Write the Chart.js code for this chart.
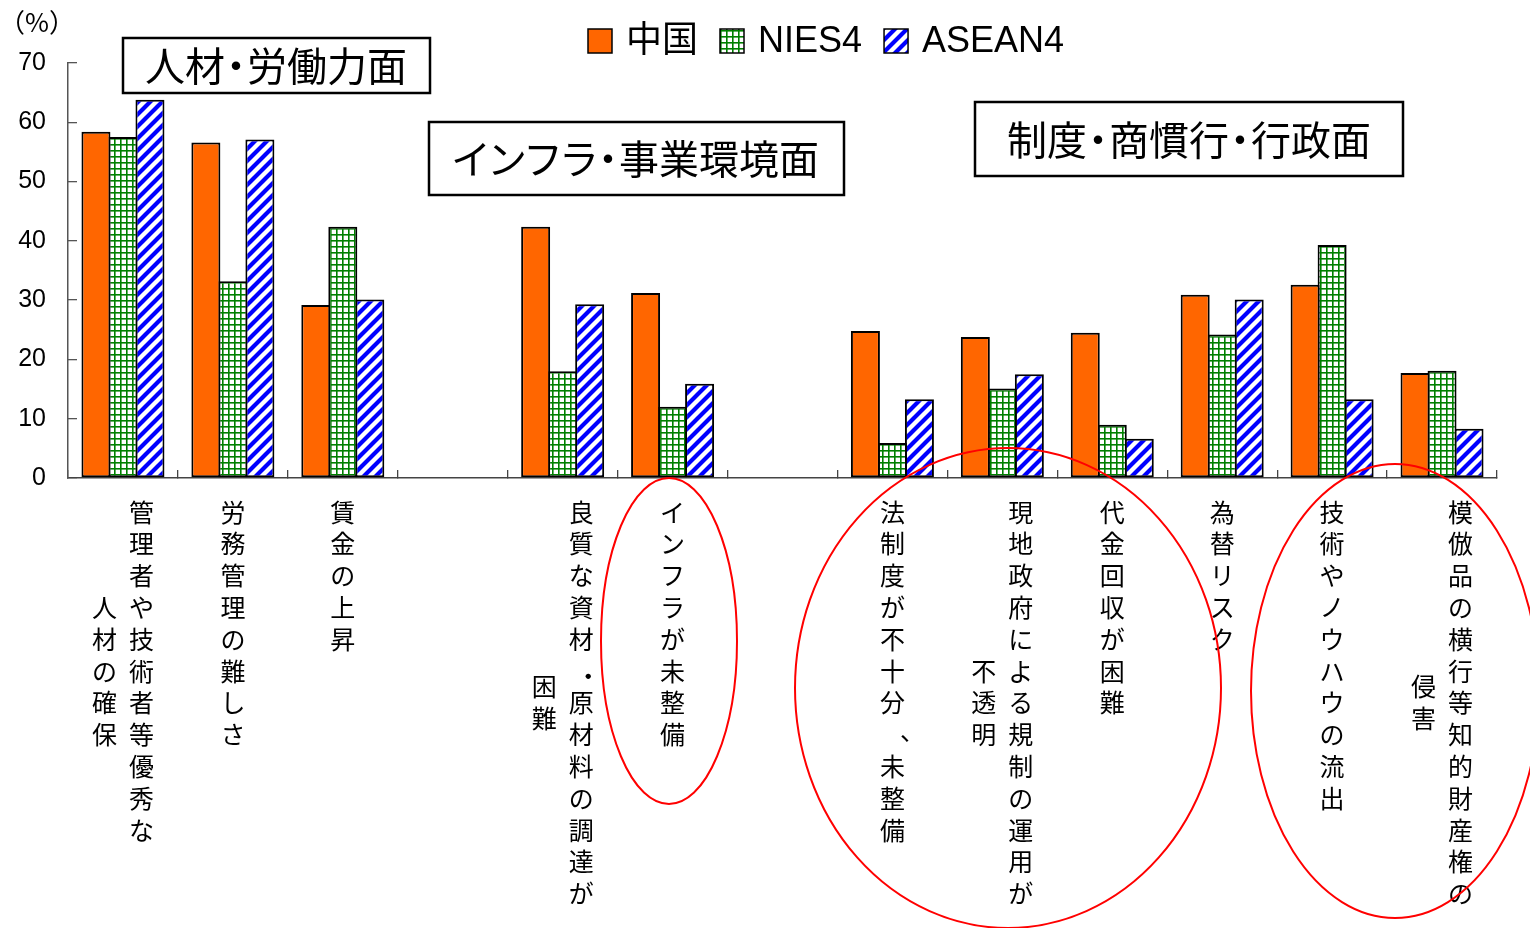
<!DOCTYPE html>
<html>
<head>
<meta charset="utf-8">
<script src="https://cdn.jsdelivr.net/npm/chart.js@4/dist/chart.umd.min.js"></script>
<style>
html,body{margin:0;padding:0;background:#fff;}
#wrap{width:1530px;height:928px;position:relative;}
canvas{display:block;}
</style>
</head>
<body>
<div id="wrap"><canvas id="c" width="1530" height="928"></canvas></div>
<script>
// ---- data ----
const categoryLabels = [
  ['管理者や技術者等優秀な', '人材の確保'],
  ['労務管理の難しさ'],
  ['賃金の上昇'],
  [''],
  ['良質な資材・原材料の調達が', '困難'],
  ['インフラが未整備'],
  [''],
  ['法制度が不十分、未整備'],
  ['現地政府による規制の運用が', '不透明'],
  ['代金回収が困難'],
  ['為替リスク'],
  ['技術やノウハウの流出'],
  ['模倣品の横行等知的財産権の', '侵害']
];
const seriesNames = ['中国', 'NIES4', 'ASEAN4'];
const chinaValues  = [58.4, 56.6, 29.2, null, 42.4, 31.2, null, 24.8, 23.8, 24.5, 30.9, 32.6, 17.7];
const nies4Values  = [57.5, 33.2, 42.4, null, 18.0, 12.0, null, 5.9, 15.1, 9.0, 24.2, 39.3, 18.1];
const asean4Values = [63.8, 57.1, 30.1, null, 29.3, 15.9, null, 13.3, 17.5, 6.6, 30.1, 13.3, 8.3];
const yTickValues = [0, 10, 20, 30, 40, 50, 60, 70];
const unitLabel = '（%）';
const groupTitles = ['人材・労働力面', 'インフラ・事業環境面', '制度・商慣行・行政面'];

// ---- patterns ----
function gridPattern() {
  const c = document.createElement('canvas');
  c.width = 6; c.height = 6;
  const g = c.getContext('2d');
  g.fillStyle = '#ffffff'; g.fillRect(0, 0, 6, 6);
  g.fillStyle = '#008000';
  g.fillRect(0, 0, 6, 1.6);
  g.fillRect(0, 0, 1.6, 6);
  return g.createPattern(c, 'repeat');
}
function stripePattern() {
  const s = 12;
  const c = document.createElement('canvas');
  c.width = s; c.height = s;
  const g = c.getContext('2d');
  g.fillStyle = '#ffffff'; g.fillRect(0, 0, s, s);
  g.strokeStyle = '#0000ff'; g.lineWidth = 4.2;
  g.beginPath();
  for (let k = -1; k <= 1; k++) {
    g.moveTo(k * s - 2, s + 2);
    g.lineTo(k * s + s + 2, -2);
  }
  g.stroke();
  return g.createPattern(c, 'repeat');
}
const fills = ['#ff6600', gridPattern(), stripePattern()];

const CJK = '"Noto Sans CJK JP", "Noto Sans CJK SC", sans-serif';
const MIX = '"Liberation Sans", "Noto Sans CJK JP", sans-serif';

function drawSpacedText(ctx, text, cx, cy) {
  const chars = [...text];
  const adv = chars.map(ch => {
    const w = ctx.measureText(ch).width;
    if (ch === '・') return w * 0.55;
    if (/[\u30A0-\u30FF]/.test(ch)) return w * 0.9;
    return w;
  });
  const total = adv.reduce((a, b) => a + b, 0);
  let x = cx - total / 2;
  ctx.textAlign = 'center';
  chars.forEach((ch, i) => {
    ctx.fillText(ch, x + adv[i] / 2, cy);
    x += adv[i];
  });
}

// ---- decorations plugin ----
const decor = {
  id: 'decor',
  afterDraw(chart) {
    const ctx = chart.ctx;
    const xs = chart.scales.x;
    ctx.save();
    // unit label
    ctx.fillStyle = '#000';
    ctx.font = '26px ' + CJK;
    ctx.textAlign = 'center'; ctx.textBaseline = 'middle';
    ctx.fillText(unitLabel, 37, 22);

    // vertical category labels
    ctx.font = '25px ' + CJK;
    const pitch = 31.8, colGap = 37, top = xs.top + 34;
    categoryLabels.forEach((cols, i) => {
      const cx = xs.getPixelForValue(i);
      const n = cols.length;
      const maxLen = Math.max(...cols.map(c => [...c].length));
      const midY = top + (maxLen - 1) * pitch / 2;
      cols.forEach((col, j) => {
        const x = cx + ((n - 1) / 2 - j) * colGap;
        const chars = [...col];
        const y0 = midY - (chars.length - 1) * pitch / 2;
        chars.forEach((ch, k) => {
          let dx = 0, dy = 0;
          if (ch === '、') { dx = 20; dy = -4; }
          if (ch === '・') { dx = 7; dy = 5; }
          ctx.fillText(ch, x + dx, y0 + k * pitch + dy);
        });
      });
    });

    // group title boxes
    const boxes = [
      {x: 123, y: 38, w: 307, h: 55, cx: 276, cy: 66},
      {x: 429, y: 122, w: 415, h: 73, cx: 636, cy: 159},
      {x: 975, y: 102, w: 428, h: 74, cx: 1189, cy: 140}
    ];
    boxes.forEach((b, i) => {
      ctx.fillStyle = '#fff';
      ctx.fillRect(b.x, b.y, b.w, b.h);
      ctx.strokeStyle = '#000'; ctx.lineWidth = 2.5;
      ctx.strokeRect(b.x, b.y, b.w, b.h);
      ctx.fillStyle = '#000';
      ctx.font = '40px ' + CJK;
      ctx.textBaseline = 'middle';
      drawSpacedText(ctx, groupTitles[i], b.cx, b.cy);
    });

    // legend
    let lx = 588;
    const ly = 29, bs = 24;
    ctx.font = '36px ' + MIX;
    ctx.textAlign = 'left'; ctx.textBaseline = 'middle';
    chart.data.datasets.forEach((ds, i) => {
      ctx.fillStyle = ds.backgroundColor;
      ctx.fillRect(lx, ly, bs, bs);
      ctx.strokeStyle = '#000'; ctx.lineWidth = 1.5;
      ctx.strokeRect(lx, ly, bs, bs);
      ctx.fillStyle = '#000';
      const tx = lx + bs + 14;
      ctx.fillText(ds.label, tx, ly + bs / 2 + 1);
      lx = tx + ctx.measureText(ds.label).width + 22;
    });

    // red ellipses
    ctx.strokeStyle = '#ff0000'; ctx.lineWidth = 2;
    [[669, 641, 68, 163], [1008, 688, 213, 240], [1395, 691, 144, 227]].forEach(e => {
      ctx.beginPath();
      ctx.ellipse(e[0], e[1], e[2], e[3], 0, 0, Math.PI * 2);
      ctx.stroke();
    });
    ctx.restore();
  }
};

const valueSets = [chinaValues, nies4Values, asean4Values];
new Chart(document.getElementById('c'), {
  type: 'bar',
  data: {
    labels: categoryLabels.map(c => c.join('')),
    datasets: seriesNames.map((name, i) => ({
      label: name,
      data: valueSets[i],
      backgroundColor: fills[i],
      borderColor: '#000',
      borderWidth: 2,
      borderSkipped: false,
      categoryPercentage: 0.737,
      barPercentage: 1.074
    }))
  },
  options: {
    responsive: false,
    devicePixelRatio: 1,
    animation: false,
    layout: {padding: {top: 63, right: 33, left: 0, bottom: 0}},
    plugins: {legend: {display: false}, tooltip: {enabled: false}},
    scales: {
      x: {
        ticks: {display: false},
        grid: {offset: true, drawOnChartArea: false, drawTicks: true, tickLength: -8, color: '#444', lineWidth: 1.3},
        border: {color: '#444', width: 1.5},
        afterFit(s) { s.height = 450; }
      },
      y: {
        min: 0, max: 70,
        afterBuildTicks(s) { s.ticks = yTickValues.map(v => ({value: v})); },
        ticks: {padding: 31, color: '#000', font: {family: '"Liberation Sans", Arial, sans-serif', size: 25}},
        grid: {drawOnChartArea: false, drawTicks: true, tickLength: -9, color: '#555', lineWidth: 1.3},
        border: {color: '#555', width: 1.5},
        afterFit(s) { s.width = 68; }
      }
    }
  },
  plugins: [decor]
});
</script>
</body>
</html>
